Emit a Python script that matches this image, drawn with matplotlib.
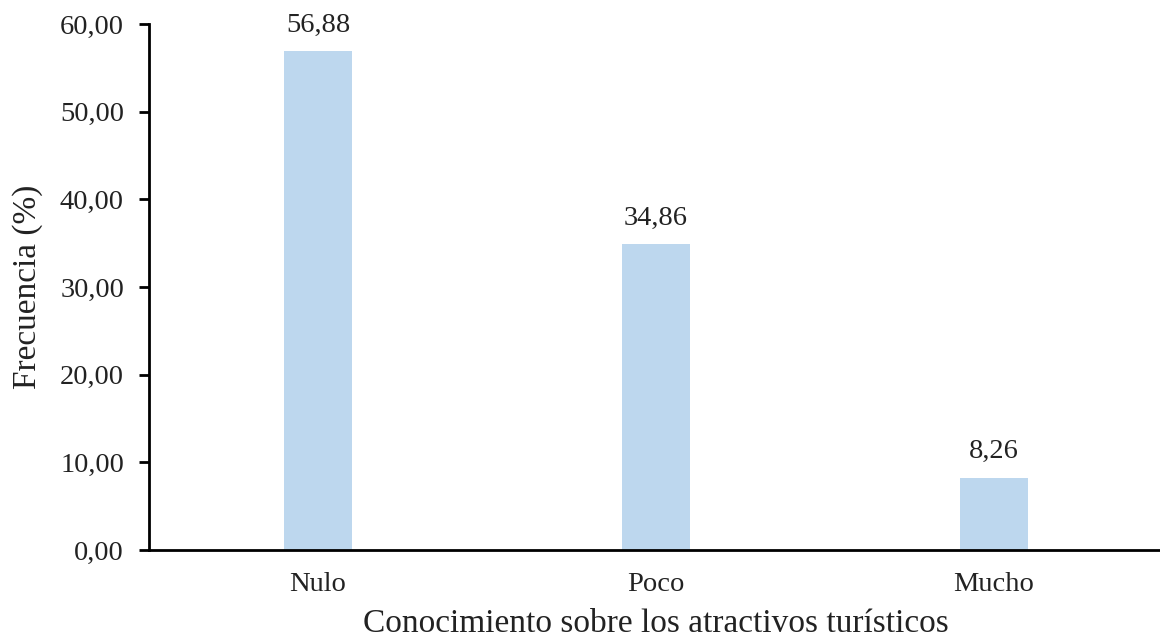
import matplotlib
matplotlib.use("Agg")
import matplotlib.pyplot as plt
from matplotlib.ticker import FuncFormatter

categories = ["Nulo", "Poco", "Mucho"]
values = [56.88, 34.86, 8.26]
labels = ["56,88", "34,86", "8,26"]

plt.rcParams['font.family'] = ['Liberation Serif', 'DejaVu Serif']

fig = plt.figure(figsize=(11.6, 6.41), dpi=100)
ax = fig.add_axes([149/1160, 1 - 550/641, (1163-149)/1160, (550-24)/641])

x = list(range(len(categories)))
bars = ax.bar(x, values, width=0.2, color="#BDD7EE")
for xi, v, lab in zip(x, values, labels):
    ax.annotate(lab, (xi, v), xytext=(0, 10), textcoords="offset points",
                ha="center", va="bottom", fontsize=20.5, color="#222222")

ax.set_xlim(-0.5, 2.5)
ax.set_ylim(0, 60)
ax.set_yticks([0, 10, 20, 30, 40, 50, 60])
ax.yaxis.set_major_formatter(FuncFormatter(lambda v, p: f"{v:.2f}".replace(".", ",")))
ax.set_xticks(x)
ax.set_xticklabels(categories)
ax.tick_params(axis='x', length=0, labelsize=20.5, pad=16, colors="#222222")
ax.tick_params(axis='y', length=7, width=2, labelsize=20.5, pad=11, colors="#222222")
ax.tick_params(axis='y', color="black")
for s in ["top", "right"]:
    ax.spines[s].set_visible(False)
for s in ["left", "bottom"]:
    ax.spines[s].set_linewidth(2)
ax.set_xlabel("Conocimiento sobre los atractivos turísticos", fontsize=24, labelpad=8, color="#222222")
ax.set_ylabel("Frecuencia (%)", fontsize=24, labelpad=12, color="#222222")

fig.savefig("out.png", dpi=100)
